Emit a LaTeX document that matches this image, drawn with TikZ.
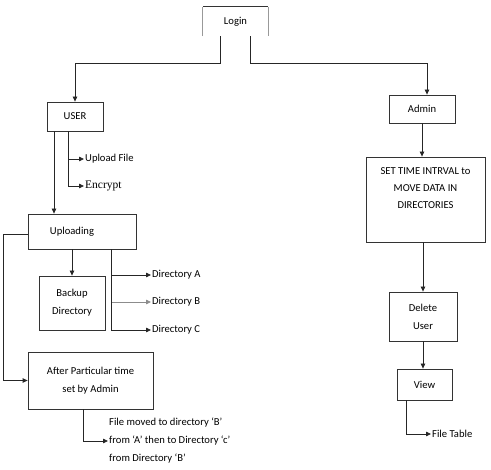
\documentclass[tikz,border=0pt]{standalone}
\usepackage{fontspec}
\setmainfont{Carlito}
\newfontfamily\serifenc{Liberation Serif}
\usetikzlibrary{arrows.meta,calc}
\begin{document}
\begin{tikzpicture}[x=1pt,y=-1pt,
  every node/.style={font=\fontsize{10.6}{18}\selectfont},
  box/.style={draw=black!80,line width=0.8pt,rectangle,inner sep=0pt,align=center},
  lbl/.style={anchor=west,inner sep=1pt},
  ln/.style={draw=black!85,line width=0.8pt},
  arr/.style={ln,-{Triangle[length=5pt,width=4.5pt]}},
  garr/.style={draw=black!45,line width=0.8pt,-{Triangle[length=5pt,width=4.5pt]}}
]
\useasboundingbox (0,0) rectangle (491,470);

% Nodes
\node[rectangle,inner sep=0pt,minimum width=65pt,minimum height=29pt] (login) at (235.5,21.5) {Login};
\draw[draw=black!40,line width=0.8pt] (login.south west) -- (login.north west);
\draw[draw=black!40,line width=0.8pt] (login.north east) -- (login.south east);
\draw[draw=black!80,line width=0.8pt] (login.north west) -- (login.north east);

\node[box,minimum width=56pt,minimum height=29pt] (user) at (75,116.5) {USER};
\node[box,minimum width=66pt,minimum height=28pt] (admin) at (422,109) {Admin};
\node[box,minimum width=119pt,minimum height=85pt,font=\fontsize{10.6}{17}\selectfont] (set) at (425.5,199.5) {SET TIME INTRVAL to\\MOVE DATA IN\\DIRECTORIES\\[6pt]};
\node[box,minimum width=68pt,minimum height=49pt] (delete) at (423,316.5) {Delete\\User};
\node[box,minimum width=55pt,minimum height=31pt] (view) at (424.5,384.5) {View};
\node[lbl] (filetable) at (431,434) {File Table};

\node[lbl] (upload) at (84,159) {Upload File};
\node[lbl,font=\serifenc\fontsize{11.5}{13}\selectfont] (encrypt) at (84,186) {Encrypt};

\node[box,minimum width=108pt,minimum height=35pt] (uploading) at (82,231.5) {Uploading\hspace*{20pt}};
\node[box,minimum width=66pt,minimum height=54pt] (backup) at (72,303) {Backup\\Directory};
\node[lbl] (dirA) at (151,275) {Directory A};
\node[lbl] (dirB) at (151,302) {Directory B};
\node[lbl] (dirC) at (151,330) {Directory C};

\node[box,minimum width=125pt,minimum height=57pt] (after) at (90.5,380.5) {After Particular time\\set by Admin};
\node[lbl,align=left] (moved) at (108,441) {File moved to directory `B'\\from `A' then to Directory `c'\\from Directory `B'};

% Connectors
\draw[arr] ([xshift=-15.5]login.south) -- ++(0,27) -| (user.north);
\draw[arr] ([xshift=14.5]login.south) -- ++(0,27) -| ([xshift=5]admin.north);
\draw[arr] (admin.south) -- (admin.south |- set.north);
\draw[arr] (delete.north |- set.south) -- (delete.north);
\draw[arr] (delete.south) -- (delete.south |- view.north);
\draw[arr] ([xshift=-18]view.south) |- (filetable.west);

\draw[arr] ([xshift=-7]user.south) |- (upload.west);
\draw[arr] ([xshift=-7]user.south) |- (encrypt.west);
\draw[arr] ([xshift=-21]user.south) -- ([xshift=-21]user.south |- uploading.north);

\draw[arr] ([yshift=-2.5]uploading.west) -- ++(-24,0) |- (after.west);
\draw[arr] (backup.north |- uploading.south) -- (backup.north);
\draw[arr] ([xshift=-25]uploading.south east) |- (dirA.west);
\draw[garr] ([xshift=-25]uploading.south east) |- (dirB.west);
\draw[arr] ([xshift=-25]uploading.south east) |- (dirC.west);
\draw[arr] ([xshift=-7.5]after.south) |- (moved.west);
\end{tikzpicture}
\end{document}
